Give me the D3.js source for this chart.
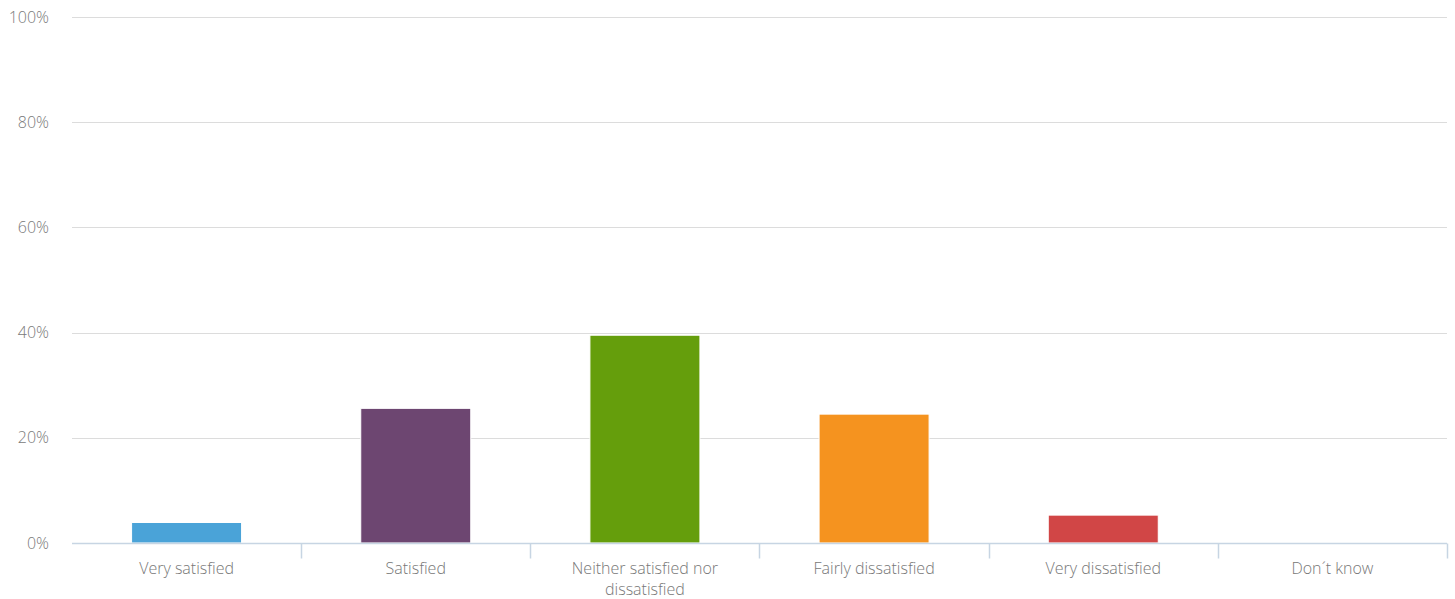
<!DOCTYPE html>
<html>
<head>
<meta charset="utf-8">
<script src="https://cdn.jsdelivr.net/npm/d3@7"></script>
<style>
  html, body { margin: 0; padding: 0; background: #fff; }
  svg { display: block; font-family: "Open Sans", sans-serif; font-weight: 300; }
</style>
</head>
<body>
<svg id="chart" width="1455" height="599"></svg>
<script>
// Survey responses: share of respondents per satisfaction level
const categories = ["Very satisfied", "Satisfied", "Neither satisfied nor dissatisfied",
                    "Fairly dissatisfied", "Very dissatisfied", "Don´t know"];
const values = [3.9, 25.6, 39.5, 24.5, 5.3, 0];
const colors = ["#4aa3d8", "#6d4671", "#659e0c", "#f5931f", "#d14646", "#7cb5ec"];
const yTicks = [0, 20, 40, 60, 80, 100];

const margin = { top: 17, right: 8, bottom: 56, left: 72 };
const W = 1455, H = 599;
const svg = d3.select("#chart");

const x = d3.scaleBand().domain(categories)
  .range([margin.left, W - margin.right]).paddingInner(0).paddingOuter(0);
const y = d3.scaleLinear().domain([0, 100]).range([H - margin.bottom, margin.top]);

// Horizontal gridlines and percentage labels
const grid = svg.append("g");
grid.selectAll("line").data(yTicks.filter(d => d > 0)).join("line")
  .attr("x1", margin.left).attr("x2", W - margin.right)
  .attr("y1", d => Math.round(y(d)) + 0.5).attr("y2", d => Math.round(y(d)) + 0.5)
  .attr("stroke", "#dcdcdc").attr("stroke-width", 1);
grid.selectAll("text").data(yTicks).join("text")
  .attr("x", 49).attr("y", d => y(d) + 5.5)
  .attr("text-anchor", "end")
  .attr("font-size", 16).attr("fill", "#7a7a7a")
  .text(d => d + "%");

// Bars centred in each category band
const barW = x.bandwidth() * 0.48;
svg.append("g").selectAll("rect").data(categories).join("rect")
  .attr("x", d => x(d) + (x.bandwidth() - barW) / 2)
  .attr("width", barW)
  .attr("y", (d, i) => y(values[i]))
  .attr("height", (d, i) => y(0) - y(values[i]))
  .attr("fill", (d, i) => colors[i])
  .attr("stroke", "#fff").attr("stroke-width", 1)
  .style("display", (d, i) => values[i] > 0 ? null : "none");

// Category axis: baseline with boundary ticks
const xAxis = svg.append("g");
const y0 = Math.round(y(0)) + 0.5;
xAxis.append("line")
  .attr("x1", margin.left).attr("x2", W - margin.right)
  .attr("y1", y0).attr("y2", y0)
  .attr("stroke", "#c7d5e3").attr("stroke-width", 1.5);
const bounds = categories.map(c => x(c) + x.bandwidth());
xAxis.selectAll("line.tick").data(bounds).join("line")
  .attr("class", "tick")
  .attr("x1", d => Math.round(d) + 0.5).attr("x2", d => Math.round(d) + 0.5)
  .attr("y1", y0).attr("y2", y0 + 15)
  .attr("stroke", "#c7d5e3").attr("stroke-width", 1.5);

// Category labels, wrapped to fit the band
const maxW = x.bandwidth() * 0.7;
xAxis.selectAll("text").data(categories).join("text")
  .attr("x", d => x(d) + x.bandwidth() / 2)
  .attr("y", y0 + 30)
  .attr("text-anchor", "middle")
  .attr("font-size", 16).attr("fill", "#777")
  .each(function (d) {
    const t = d3.select(this);
    const words = d.split(" ");
    let line = [];
    let tspan = t.append("tspan").attr("x", x(d) + x.bandwidth() / 2).attr("dy", 0);
    words.forEach(w => {
      line.push(w);
      tspan.text(line.join(" "));
      if (tspan.node().getComputedTextLength() > maxW && line.length > 1) {
        line.pop();
        tspan.text(line.join(" "));
        line = [w];
        tspan = t.append("tspan").attr("x", x(d) + x.bandwidth() / 2)
          .attr("dy", 21).text(w);
      }
    });
  });
</script>
</body>
</html>
